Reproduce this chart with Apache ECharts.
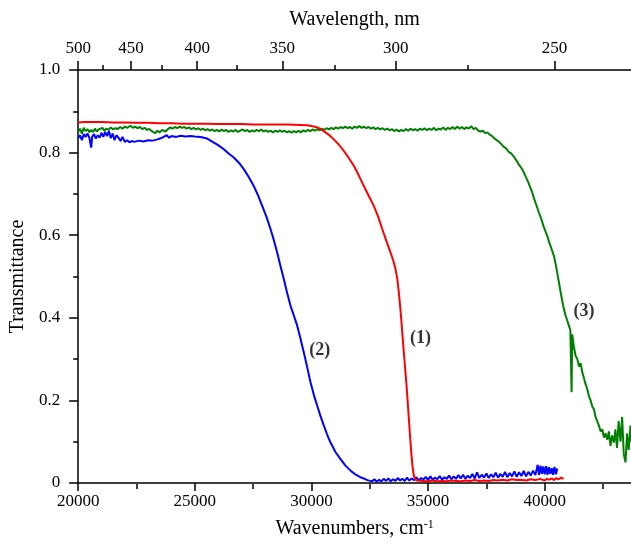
<!DOCTYPE html>
<html><head><meta charset="utf-8">
<script src="https://cdn.jsdelivr.net/npm/echarts@6/dist/echarts.min.js"></script>
<style>html,body{margin:0;padding:0;background:#fff}#c{width:631px;height:544px}</style>
</head><body><div id="c"></div>
<script>
// Bottom axis: wavenumbers (cm-1)
const wavenumberMajor = [20000, 25000, 30000, 35000, 40000];
const wavenumberMinor = [22500, 27500, 32500, 37500, 42500];
// Top axis: wavelength (nm)
const wavelengthMajor = [500, 450, 400, 350, 300, 250];
const wavelengthMinor = [475, 425, 375, 325, 275];
const yTicks = [0, 0.2, 0.4, 0.6, 0.8, 1.0];

// Curve (1) red
const curve1 = [[20000,0.873],[20300,0.874],[20550,0.874],[20600,0.878],[20700,0.874],[21000,0.874],[21500,0.873],[22000,0.873],[22500,0.872],[23000,0.872],[23500,0.871],[24000,0.871],[24500,0.870],[25000,0.870],[25500,0.870],[26000,0.869],[26500,0.869],[27000,0.869],[27500,0.868],[28000,0.868],[28500,0.868],[29000,0.868],[29500,0.867],[29820,0.866],[30050,0.864],[30249,0.861],[30400,0.857],[30532,0.852],[30750,0.843],[30961,0.832],[31180,0.819],[31390,0.804],[31600,0.787],[31818,0.768],[32030,0.745],[32247,0.719],[32460,0.695],[32676,0.671],[32860,0.645],[33036,0.615],[33220,0.585],[33392,0.558],[33500,0.540],[33606,0.518],[33680,0.495],[33748,0.461],[33800,0.430],[33851,0.397],[33905,0.357],[33962,0.316],[34020,0.276],[34078,0.236],[34130,0.195],[34177,0.155],[34230,0.113],[34280,0.074],[34330,0.042],[34391,0.018],[34450,0.009],[34537,0.006],[34800,0.005],[35000,0.004],[35200,0.006],[35400,0.004],[35600,0.005],[35800,0.004],[36000,0.006],[36200,0.005],[36400,0.004],[36600,0.006],[36800,0.005],[37000,0.007],[37200,0.005],[37400,0.006],[37600,0.005],[37800,0.007],[38000,0.006],[38200,0.008],[38400,0.006],[38600,0.009],[38800,0.007],[39000,0.008],[39200,0.006],[39400,0.009],[39600,0.007],[39800,0.010],[40000,0.006],[40100,0.010],[40200,0.008],[40300,0.011],[40400,0.007],[40500,0.012],[40600,0.009],[40700,0.013],[40811,0.010]];

// Curve (2) blue
const curve2 = [[20000,0.835],[20080,0.842],[20160,0.830],[20240,0.845],[20320,0.838],[20400,0.846],[20480,0.836],[20560,0.812],[20600,0.838],[20680,0.845],[20760,0.834],[20840,0.842],[20920,0.836],[21000,0.848],[21080,0.838],[21160,0.850],[21240,0.840],[21320,0.852],[21400,0.835],[21480,0.846],[21560,0.830],[21640,0.842],[21730,0.836],[21820,0.828],[21900,0.838],[22000,0.826],[22100,0.830],[22200,0.825],[22300,0.828],[22400,0.826],[22600,0.829],[22800,0.827],[23000,0.830],[23200,0.829],[23400,0.832],[23600,0.836],[23800,0.842],[23900,0.836],[24000,0.840],[24200,0.838],[24400,0.841],[24600,0.839],[24816,0.840],[25000,0.839],[25250,0.838],[25532,0.834],[25800,0.825],[26000,0.818],[26244,0.808],[26450,0.798],[26672,0.788],[26900,0.775],[27101,0.760],[27300,0.742],[27530,0.719],[27700,0.698],[27890,0.671],[28070,0.645],[28246,0.615],[28390,0.588],[28533,0.558],[28670,0.526],[28816,0.494],[28960,0.460],[29104,0.429],[29250,0.405],[29391,0.381],[29530,0.350],[29674,0.316],[29820,0.280],[29961,0.244],[30100,0.214],[30249,0.187],[30390,0.162],[30532,0.139],[30670,0.118],[30819,0.098],[31030,0.075],[31248,0.058],[31460,0.042],[31677,0.030],[31900,0.020],[32100,0.014],[32247,0.011],[32400,0.007],[32600,0.004],[32700,0.009],[32800,0.003],[32900,0.008],[33000,0.004],[33100,0.010],[33200,0.005],[33300,0.011],[33400,0.004],[33500,0.009],[33600,0.005],[33700,0.012],[33800,0.006],[33900,0.010],[34000,0.005],[34100,0.013],[34200,0.006],[34300,0.011],[34400,0.007],[34500,0.014],[34600,0.006],[34700,0.012],[34800,0.008],[34900,0.015],[35000,0.007],[35100,0.016],[35200,0.008],[35300,0.013],[35400,0.009],[35500,0.017],[35600,0.008],[35700,0.014],[35800,0.010],[35900,0.018],[36000,0.009],[36100,0.016],[36200,0.010],[36300,0.019],[36400,0.011],[36500,0.020],[36600,0.010],[36700,0.018],[36800,0.012],[36900,0.022],[37000,0.011],[37100,0.026],[37200,0.012],[37300,0.020],[37400,0.013],[37500,0.023],[37600,0.012],[37700,0.021],[37800,0.014],[37900,0.025],[38000,0.013],[38100,0.022],[38200,0.015],[38300,0.027],[38400,0.014],[38500,0.024],[38600,0.016],[38700,0.028],[38800,0.015],[38900,0.026],[39000,0.017],[39100,0.029],[39200,0.016],[39300,0.027],[39400,0.018],[39500,0.030],[39600,0.019],[39700,0.044],[39760,0.020],[39820,0.042],[39880,0.022],[39940,0.040],[40000,0.021],[40060,0.041],[40120,0.020],[40180,0.038],[40240,0.022],[40300,0.036],[40360,0.020],[40420,0.039],[40480,0.021],[40540,0.035]];

// Curve (3) green
const curve3 = [[20000,0.850],[20080,0.858],[20160,0.846],[20240,0.860],[20320,0.852],[20400,0.857],[20480,0.849],[20560,0.855],[20640,0.850],[20720,0.858],[20800,0.851],[20880,0.856],[20960,0.852],[21040,0.860],[21120,0.853],[21200,0.858],[21300,0.855],[21400,0.861],[21500,0.856],[21600,0.859],[21700,0.857],[21800,0.862],[21900,0.858],[22000,0.863],[22100,0.860],[22240,0.865],[22350,0.860],[22450,0.863],[22550,0.859],[22650,0.862],[22750,0.857],[22850,0.860],[22950,0.855],[23050,0.857],[23150,0.852],[23310,0.847],[23400,0.853],[23500,0.849],[23600,0.855],[23740,0.851],[23850,0.857],[23950,0.861],[24050,0.858],[24150,0.862],[24250,0.859],[24350,0.863],[24450,0.860],[24550,0.862],[24650,0.858],[24750,0.861],[24850,0.857],[24950,0.860],[25050,0.856],[25150,0.859],[25250,0.855],[25350,0.858],[25450,0.854],[25550,0.857],[25650,0.853],[25750,0.856],[25850,0.852],[25950,0.855],[26050,0.851],[26150,0.856],[26250,0.852],[26350,0.855],[26450,0.850],[26550,0.854],[26650,0.851],[26750,0.855],[26850,0.850],[26950,0.853],[27050,0.856],[27150,0.852],[27250,0.855],[27350,0.850],[27450,0.854],[27550,0.851],[27650,0.855],[27750,0.852],[27850,0.856],[27950,0.851],[28050,0.854],[28150,0.850],[28250,0.853],[28350,0.849],[28450,0.853],[28550,0.850],[28650,0.854],[28750,0.850],[28850,0.853],[28950,0.849],[29050,0.852],[29150,0.848],[29250,0.852],[29350,0.849],[29450,0.853],[29550,0.849],[29650,0.854],[29750,0.851],[29850,0.855],[29950,0.852],[30050,0.856],[30150,0.853],[30250,0.857],[30350,0.854],[30450,0.858],[30550,0.855],[30650,0.859],[30750,0.856],[30850,0.860],[30950,0.857],[31050,0.861],[31150,0.858],[31250,0.862],[31350,0.859],[31450,0.863],[31550,0.859],[31650,0.862],[31750,0.858],[31850,0.863],[31950,0.860],[32050,0.864],[32150,0.860],[32250,0.863],[32350,0.859],[32450,0.862],[32550,0.858],[32650,0.861],[32750,0.857],[32850,0.860],[32950,0.856],[33050,0.859],[33150,0.855],[33250,0.858],[33350,0.854],[33450,0.857],[33550,0.852],[33650,0.856],[33750,0.851],[33850,0.855],[33950,0.852],[34050,0.857],[34150,0.853],[34250,0.858],[34350,0.854],[34450,0.857],[34550,0.853],[34650,0.858],[34750,0.855],[34850,0.859],[34950,0.854],[35050,0.858],[35150,0.855],[35250,0.860],[35350,0.854],[35450,0.858],[35550,0.856],[35650,0.861],[35750,0.855],[35850,0.860],[35950,0.857],[36050,0.862],[36150,0.857],[36250,0.863],[36350,0.858],[36450,0.862],[36550,0.857],[36650,0.861],[36750,0.858],[36850,0.864],[36950,0.857],[37050,0.860],[37150,0.853],[37250,0.851],[37350,0.853],[37450,0.847],[37539,0.849],[37650,0.843],[37750,0.840],[37822,0.835],[37950,0.830],[38050,0.826],[38150,0.820],[38250,0.814],[38350,0.810],[38450,0.802],[38560,0.798],[38679,0.790],[38800,0.780],[38900,0.770],[39000,0.763],[39108,0.752],[39200,0.740],[39300,0.728],[39380,0.716],[39468,0.703],[39550,0.688],[39650,0.672],[39751,0.655],[39850,0.640],[39950,0.622],[40030,0.610],[40111,0.598],[40200,0.582],[40300,0.566],[40395,0.550],[40470,0.530],[40540,0.508],[40609,0.486],[40680,0.463],[40750,0.442],[40823,0.421],[40900,0.405],[40970,0.393],[41038,0.381],[41100,0.370],[41153,0.220],[41180,0.360],[41250,0.330],[41325,0.308],[41400,0.300],[41470,0.282],[41540,0.290],[41612,0.268],[41680,0.255],[41750,0.240],[41827,0.227],[41900,0.210],[41970,0.200],[42040,0.185],[42110,0.179],[42180,0.160],[42250,0.150],[42324,0.139],[42400,0.125],[42470,0.130],[42540,0.110],[42610,0.120],[42684,0.105],[42750,0.125],[42820,0.090],[42890,0.115],[42967,0.098],[43030,0.130],[43100,0.085],[43170,0.150],[43250,0.100],[43320,0.160],[43390,0.070],[43465,0.050],[43530,0.120],[43600,0.080],[43679,0.139],[43720,0.100]];

const annotations = [
  { label: '(1)', x: 34680, y: 0.351 },
  { label: '(2)', x: 30360, y: 0.320 },
  { label: '(3)', x: 41681, y: 0.415 }
];

const FONT = 'Liberation Serif';
const BLACK = '#000';
const toWn = l => 1e7 / l;
const gridBox = { left: 78, right: 0, top: 70, bottom: 60 };
const lineAx = { show: true, lineStyle: { color: BLACK, width: 1.5 } };

const chart = echarts.init(document.getElementById('c'), null, { renderer: 'canvas' });
chart.setOption({
  animation: false,
  backgroundColor: '#fff',
  grid: [Object.assign({}, gridBox), Object.assign({}, gridBox)],
  xAxis: [
    {
      type: 'value', gridIndex: 0, position: 'bottom', min: 20000, max: 43700,
      axisLine: lineAx,
      axisTick: { show: true, length: 8, customValues: wavenumberMajor, lineStyle: { color: BLACK, width: 1.5 } },
      axisLabel: { customValues: wavenumberMajor, margin: 10, fontFamily: FONT, fontSize: 17, color: BLACK,
        formatter: v => String(Math.round(v)) },
      splitLine: { show: false },
      name: 'Wavenumbers, cm{sup|-1}', nameLocation: 'middle', nameGap: 36,
      nameTextStyle: { fontFamily: FONT, fontSize: 20, color: BLACK,
        rich: { sup: { fontFamily: FONT, fontSize: 12, color: BLACK, verticalAlign: 'top', padding: [0, 0, 8, 0] } } }
    },
    {
      type: 'value', gridIndex: 0, position: 'top', min: 20000, max: 43210,
      axisLine: lineAx,
      axisTick: { show: true, length: 9, customValues: wavelengthMajor.map(toWn), lineStyle: { color: BLACK, width: 1.5 } },
      axisLabel: { customValues: wavelengthMajor.map(toWn), margin: 13, fontFamily: FONT, fontSize: 17, color: BLACK,
        formatter: v => String(Math.round(1e7 / v)) },
      splitLine: { show: false },
      name: 'Wavelength, nm', nameLocation: 'middle', nameGap: 40,
      nameTextStyle: { fontFamily: FONT, fontSize: 20, color: BLACK }
    },
    {
      type: 'value', gridIndex: 1, position: 'bottom', min: 20000, max: 43700,
      axisLine: { show: false },
      axisTick: { show: true, length: 5, customValues: wavenumberMinor, lineStyle: { color: BLACK, width: 1.5 } },
      axisLabel: { show: false }, splitLine: { show: false }
    },
    {
      type: 'value', gridIndex: 1, position: 'top', min: 20000, max: 43210,
      axisLine: { show: false },
      axisTick: { show: true, length: 5, customValues: wavelengthMinor.map(toWn), lineStyle: { color: BLACK, width: 1.5 } },
      axisLabel: { show: false }, splitLine: { show: false }
    }
  ],
  yAxis: [
    {
      type: 'value', gridIndex: 0, min: 0, max: 1, interval: 0.2,
      axisLine: lineAx,
      axisTick: { show: true, length: 9, lineStyle: { color: BLACK, width: 1.5 } },
      minorTick: { show: true, splitNumber: 2, length: 5, lineStyle: { color: BLACK, width: 1.5 } },
      axisLabel: { margin: 18, fontFamily: FONT, fontSize: 17, color: BLACK,
        formatter: v => (v === 0 ? '0' : v.toFixed(1)) },
      splitLine: { show: false },
      name: 'Transmittance', nameLocation: 'middle', nameGap: 50, nameRotate: 90,
      nameTextStyle: { fontFamily: FONT, fontSize: 20, color: BLACK }
    },
    {
      type: 'value', gridIndex: 1, min: 0, max: 1, show: false
    }
  ],
  series: [
    { type: 'line', name: '(3)', xAxisIndex: 0, yAxisIndex: 0, data: curve3, showSymbol: false,
      lineStyle: { color: '#008000', width: 2 }, itemStyle: { color: '#008000' } },
    { type: 'line', name: '(2)', xAxisIndex: 0, yAxisIndex: 0, data: curve2, showSymbol: false,
      lineStyle: { color: '#0000ff', width: 2 }, itemStyle: { color: '#0000ff' } },
    { type: 'line', name: '(1)', xAxisIndex: 0, yAxisIndex: 0, data: curve1, showSymbol: false,
      lineStyle: { color: '#ff0000', width: 2 }, itemStyle: { color: '#ff0000' } },
    { type: 'scatter', xAxisIndex: 0, yAxisIndex: 0, symbolSize: 0, silent: true,
      data: annotations.map(a => ({ name: a.label, value: [a.x, a.y] })),
      label: { show: true, position: 'inside', formatter: '{b}', fontFamily: FONT, fontSize: 18,
        fontWeight: 'bold', color: BLACK } }
  ]
});
</script>
</body></html>
